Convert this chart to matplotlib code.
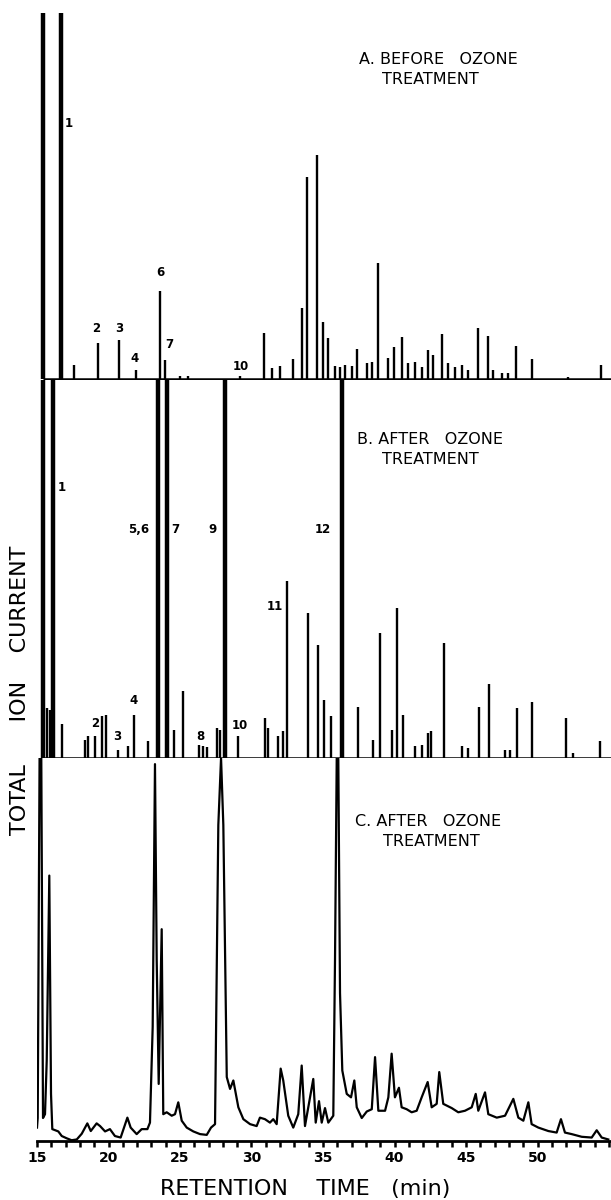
import matplotlib
matplotlib.use("Agg")
import matplotlib.pyplot as plt

# A: before ozone treatment - peak retention times (min) and heights (% of full scale)
peaks_a_time = [15.42, 16.68, 17.59, 19.24, 20.73, 21.90, 23.60, 23.95, 25.00, 25.56,
                29.20, 30.87, 31.43, 32.00, 32.90, 33.53, 33.86, 34.60, 35.02, 35.37,
                35.84, 36.19, 36.54, 37.01, 37.36, 38.06, 38.41, 38.87, 39.57, 39.99,
                40.50, 40.94, 41.43, 41.90, 42.36, 42.69, 43.30, 43.74, 44.23, 44.70,
                45.14, 45.86, 46.56, 46.89, 47.50, 47.94, 48.50, 49.59, 52.13, 54.42]
peaks_a_height = [100, 100, 3.8, 9.8, 10.7, 2.5, 24.0, 5.2, 0.8, 0.8,
                  0.8, 12.6, 3.0, 3.6, 5.5, 19.4, 55.2, 61.2, 15.6, 11.2,
                  3.6, 3.3, 3.8, 3.6, 8.2, 4.4, 4.6, 31.7, 5.7, 8.7,
                  11.5, 4.4, 4.6, 3.3, 7.9, 6.6, 12.3, 4.4, 3.3, 3.8,
                  2.5, 13.9, 11.7, 2.5, 1.6, 1.6, 9.0, 5.5, 0.5, 3.8]

# B: after ozone treatment
peaks_b_time = [15.42, 15.68, 15.91, 16.14, 16.73, 18.36, 18.59, 19.06, 19.52, 19.83,
                20.69, 21.39, 21.78, 22.78, 23.48, 24.07, 24.58, 25.23, 26.35, 26.63,
                26.91, 27.57, 27.80, 28.15, 29.03, 30.94, 31.17, 31.87, 32.22, 32.50,
                33.97, 34.67, 35.09, 35.56, 36.31, 37.43, 38.52, 38.99, 39.85, 40.15,
                40.62, 41.43, 41.90, 42.36, 42.55, 43.48, 44.72, 45.14, 45.91, 46.61,
                47.73, 48.08, 48.59, 49.64, 51.97, 52.48, 54.37]
peaks_b_height = [100, 13.2, 12.7, 100, 9.0, 4.8, 5.8, 5.8, 11.1, 11.4,
                  2.1, 3.2, 11.4, 4.5, 100, 100, 7.4, 17.7, 3.4, 3.2,
                  2.9, 7.9, 7.4, 100, 5.8, 10.6, 7.9, 5.8, 7.1, 46.8,
                  38.4, 29.9, 15.3, 11.1, 100, 13.5, 4.8, 33.1, 7.4, 39.7,
                  11.4, 3.2, 3.4, 6.6, 7.1, 30.4, 3.2, 2.6, 13.5, 19.6,
                  2.1, 2.1, 13.2, 14.8, 10.6, 1.3, 4.5]

# C: after ozone treatment - traced signal
trace_c_time = [15.00, 15.05, 15.18, 15.30, 15.42, 15.56, 15.68, 15.86, 15.98, 16.07,
                16.49, 16.73, 17.08, 17.42, 17.78, 18.13, 18.52, 18.76, 19.17, 19.41,
                19.76, 20.10, 20.45, 20.85, 21.32, 21.55, 21.97, 22.32, 22.72, 22.90,
                23.09, 23.25, 23.37, 23.51, 23.72, 23.83, 24.07, 24.42, 24.65, 24.88,
                25.12, 25.47, 25.93, 26.40, 26.87, 27.17, 27.45, 27.68, 27.87, 28.03,
                28.27, 28.50, 28.73, 29.08, 29.43, 29.90, 30.36, 30.59, 30.94, 31.29,
                31.52, 31.76, 32.04, 32.22, 32.57, 32.92, 33.27, 33.51, 33.74, 34.32,
                34.49, 34.72, 34.91, 35.14, 35.37, 35.72, 35.84, 35.96, 36.07, 36.19,
                36.35, 36.66, 36.96, 37.19, 37.36, 37.71, 38.06, 38.41, 38.64, 38.87,
                39.34, 39.57, 39.80, 40.03, 40.31, 40.50, 40.85, 41.20, 41.55, 41.90,
                42.32, 42.60, 42.95, 43.13, 43.41, 44.00, 44.46, 44.93, 45.40, 45.68,
                45.86, 46.33, 46.56, 47.15, 47.73, 48.31, 48.66, 49.01, 49.36, 49.59,
                50.06, 50.76, 51.34, 51.64, 51.92, 52.39, 53.09, 53.79, 54.14, 54.49,
                54.95]
trace_c_height = [3.5, 6.0, 100, 100, 6.0, 7.0, 21.0, 69.3, 12.3, 3.1,
                  2.5, 1.3, 0.7, 0.2, 0.4, 1.9, 4.6, 2.6, 4.6, 3.9,
                  2.5, 3.1, 1.3, 0.9, 6.1, 3.5, 1.8, 3.1, 3.1, 4.8,
                  29.8, 98.4, 47.4, 14.9, 55.3, 7.0, 7.5, 6.6, 7.0, 10.1,
                  5.3, 3.5, 2.5, 1.8, 1.6, 3.5, 4.4, 82.5, 100, 82.5,
                  16.7, 13.6, 15.8, 8.8, 5.7, 4.4, 3.9, 6.1, 5.7, 4.8,
                  5.7, 4.4, 18.9, 15.8, 6.6, 3.5, 7.0, 19.7, 3.9, 16.2,
                  4.8, 10.4, 4.8, 8.6, 4.8, 6.6, 47.4, 100, 100, 38.6,
                  18.4, 12.3, 11.4, 15.8, 8.8, 6.0, 7.7, 8.3, 21.9, 7.9,
                  7.9, 11.4, 22.8, 11.4, 13.9, 8.8, 8.3, 7.5, 7.9, 11.4,
                  15.4, 8.8, 9.7, 18.0, 9.7, 8.6, 7.5, 7.9, 8.8, 12.3,
                  7.9, 12.7, 7.0, 6.1, 6.6, 11.0, 6.1, 5.3, 10.1, 4.4,
                  3.5, 2.6, 2.2, 5.7, 2.2, 1.8, 1.1, 0.9, 2.8, 0.9,
                  0.4]

# peak numbers: (text, time, height %)
labels_a = [("1", 17.24, 69.7), ("2", 19.17, 13.7), ("3", 20.73, 13.9), ("4", 21.85, 5.5),
            ("6", 23.60, 29.0), ("7", 24.23, 9.3), ("10", 29.24, 3.3)]
labels_b = [("1", 16.73, 71.6), ("5,6", 22.09, 60.5), ("7", 24.70, 60.5), ("9", 27.29, 60.5),
            ("12", 35.02, 60.5), ("11", 31.64, 40.0), ("4", 21.78, 15.3), ("2", 19.06, 9.2),
            ("3", 20.62, 5.8), ("8", 26.40, 5.6), ("10", 29.20, 8.5)]

tick_values = list(range(15, 56))
tick_labels = [str(v) if v % 5 == 0 and v < 55 else "" for v in tick_values]

W, H = 611, 1200
X0, X1 = 37, 611
PX_PER_MIN = 14.3
XMIN = 15.0
XMAX = XMIN + (X1 - X0) / PX_PER_MIN

fig = plt.figure(figsize=(W / 100, H / 100), dpi=100)


def panel(top, base):
    ax = fig.add_axes([X0 / W, 1 - base / H, (X1 - X0) / W, (base - top) / H])
    ax.set_xlim(XMIN, XMAX)
    ax.set_ylim(0, 100)
    for s in ax.spines.values():
        s.set_visible(False)
    ax.set_yticks([])
    return ax


def spikes(ax, times, heights):
    widths = [3.2 if h >= 100 else 1.7 for h in heights]
    ax.vlines(times, 0, heights, colors="black", linewidths=widths)
    ax.hlines(0, times[0], XMAX, colors="black", linewidth=1.8, clip_on=False)
    ax.set_xticks([])


ax_a = panel(13, 379)
ax_b = panel(380, 758)
ax_c = panel(758, 1141)

spikes(ax_a, peaks_a_time, peaks_a_height)
spikes(ax_b, peaks_b_time, peaks_b_height)

ax_c.plot(trace_c_time, trace_c_height, color="black", lw=1.6)
ax_c.spines["bottom"].set_visible(True)
ax_c.spines["bottom"].set_linewidth(2)
ax_c.set_xticks(tick_values)
ax_c.set_xticklabels(tick_labels, fontsize=10, fontweight="bold")
ax_c.tick_params(axis="x", direction="out", length=4, width=1.8, pad=3.5)

for ax, labels in ((ax_a, labels_a), (ax_b, labels_b)):
    for txt, t, h in labels:
        ax.text(t, h, txt, ha="center", va="center", fontsize=8.5, fontweight="bold")


def ftext(x, y, s, **kw):
    fig.text(x / W, 1 - y / H, s, va="center", **kw)


title_kw = dict(fontsize=11.5, ha="left")
ftext(359, 59, "A. BEFORE   OZONE", **title_kw)
ftext(382, 80, "TREATMENT", **title_kw)
ftext(357, 440, "B. AFTER   OZONE", **title_kw)
ftext(382, 460, "TREATMENT", **title_kw)
ftext(355, 822, "C. AFTER   OZONE", **title_kw)
ftext(383, 842, "TREATMENT", **title_kw)

ftext(305, 1189, "RETENTION    TIME   (min)", ha="center", fontsize=16)
ftext(20, 690, "TOTAL      ION    CURRENT", ha="center", fontsize=16, rotation=90)

fig.savefig("out.png", dpi=100)
